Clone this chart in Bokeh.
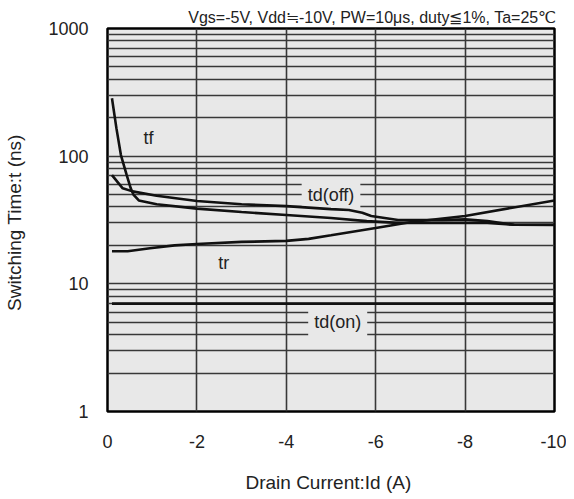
from bokeh.plotting import figure
from bokeh.models import Range1d, FixedTicker, NumeralTickFormatter, Label, CustomJSTickFormatter
from bokeh.embed import file_html
from bokeh.resources import INLINE

# ---- data ----
id_tf = [-0.1, -0.2, -0.3, -0.43, -0.52, -0.58, -0.7, -1.1, -2.0, -3.0, -4.0, -5.0, -5.8, -6.5, -7.5, -8.5, -9.1, -10.0]
tf = [284, 165, 102, 71, 56, 50, 45, 42, 38.8, 36.5, 34.6, 32.8, 31, 30, 30, 30, 29, 28.9]

id_tdoff = [-0.1, -0.34, -0.56, -1.1, -2.0, -3.0, -4.0, -5.0, -5.4, -5.7, -5.9, -6.5, -7.5, -8.0, -8.5, -9.1, -10.0]
tdoff = [71, 56, 53, 49, 44.5, 42, 40.6, 38.5, 37.9, 36, 34, 31.6, 31.6, 32, 31, 29, 29]

id_tr = [-0.1, -0.45, -0.95, -1.5, -2.0, -3.0, -4.0, -4.5, -5.0, -6.0, -6.8, -8.0, -10.0]
tr = [18, 18, 19, 20, 20.5, 21.3, 21.7, 22.5, 24, 27.4, 30.5, 34, 45]

id_tdon = [-0.1, -10.0]
tdon = [7, 7]

x_ticks = [0, -2, -4, -6, -8, -10]
y_ticks = [1, 10, 100, 1000]
y_minor = [2, 3, 4, 5, 6, 7, 8, 9, 20, 30, 40, 50, 60, 70, 80, 90, 200, 300, 400, 500, 600, 700, 800, 900]

curve_labels = ["tf", "td(off)", "tr", "td(on)"]
label_x = [-0.92, -5.0, -2.6, -5.15]
label_y = [140, 50, 14.5, 5]
label_boxed = [False, True, False, True]

title_text = "Vgs=-5V, Vdd\u2252-10V, PW=10\u03bcs, duty\u22661%, Ta=25\u2103"

FONT = "Liberation Sans"
BG = "#e8e8e8"
GRID = "#383838"
INK = "#111111"

p = figure(width=566, height=495, output_backend="svg", toolbar_location=None,
           x_range=Range1d(0, -10), y_range=Range1d(1, 1000), y_axis_type="log",
           min_border_left=107, min_border_right=12, min_border_top=28, min_border_bottom=80,
           background_fill_color=BG, border_fill_color="white")

p.outline_line_color = "black"
p.outline_line_width = 2.5

p.title.text = title_text
p.title.align = "right"
p.title.text_font = FONT
p.title.text_font_size = "16px"
p.title.text_font_style = "normal"
p.title.text_color = "#222222"
p.title.standoff = 6

p.xaxis.ticker = FixedTicker(ticks=x_ticks)
p.xaxis.formatter = CustomJSTickFormatter(code="return tick.toString();")
p.yaxis.ticker = FixedTicker(ticks=y_ticks, minor_ticks=y_minor)
p.yaxis.formatter = NumeralTickFormatter(format="0")

for ax in (p.xaxis[0], p.yaxis[0]):
    ax.axis_line_color = None
    ax.major_tick_line_color = None
    ax.minor_tick_line_color = None
    ax.major_label_text_font = FONT
    ax.major_label_text_font_size = "18px"
    ax.major_label_text_color = "#222222"
    ax.axis_label_text_font = FONT
    ax.axis_label_text_font_size = "19px"
    ax.axis_label_text_font_style = "normal"
    ax.axis_label_text_color = "#222222"

p.xaxis.axis_label = "Drain Current:Id  (A)"
p.yaxis.axis_label = "Switching Time:t  (ns)"
p.xaxis.major_label_standoff = 17
p.xaxis.axis_label_standoff = 21
p.yaxis.major_label_standoff = 13
p.yaxis.axis_label_standoff = 20

p.xgrid.grid_line_color = GRID
p.xgrid.grid_line_width = 1.6
p.ygrid.grid_line_color = GRID
p.ygrid.grid_line_width = 1.6
p.ygrid.minor_grid_line_color = GRID
p.ygrid.minor_grid_line_width = 1.6

# curve labels drawn over the grid but beneath the curves
for t, lx, ly, boxed in zip(curve_labels, label_x, label_y, label_boxed):
    lab = Label(x=lx, y=ly, text=t, text_align="center", text_baseline="middle",
                text_font=FONT, text_font_size="18px", text_color="#222222",
                level="underlay")
    if boxed:
        lab.background_fill_color = BG
        lab.padding = 6
    p.add_layout(lab)

for xs, ys in ((id_tf, tf), (id_tdoff, tdoff), (id_tr, tr), (id_tdon, tdon)):
    p.line(xs, ys, line_color=INK, line_width=2.6)

open("out.html", "w").write(file_html(p, INLINE))
